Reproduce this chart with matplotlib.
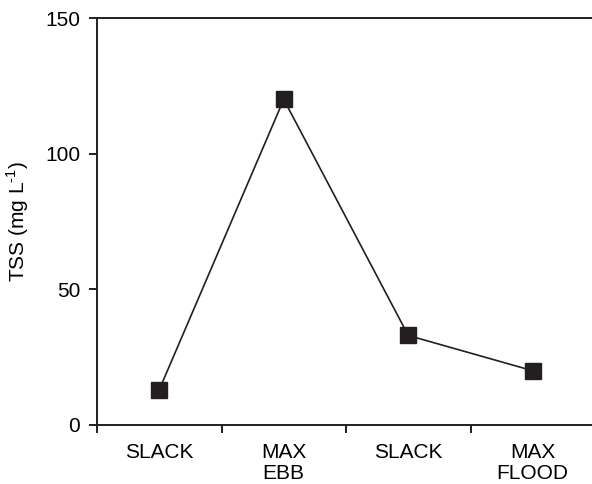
import numpy as np
import matplotlib.pyplot as plt

# tidal stages and TSS values
stages = ["SLACK", "MAX\nEBB", "SLACK", "MAX\nFLOOD"]
tss = [13, 120, 33, 20]

plt.rcParams['font.family'] = ['Liberation Sans', 'DejaVu Sans']
plt.rcParams['mathtext.fontset'] = 'custom'
plt.rcParams['mathtext.rm'] = 'Liberation Sans'
ink = "#231f20"

fig = plt.figure(figsize=(5.92, 4.84), dpi=100)
ax = fig.add_axes([97/592, 59/484, 498/592, 407/484])

x = np.arange(len(stages)) + 0.5
ax.plot(x, tss, color=ink, lw=1.2, marker="s", ms=11.5, mfc=ink, mec=ink)

ax.set_xlim(0, len(stages))
ax.set_ylim(0, 150)
ax.set_yticks([0, 50, 100, 150])
ax.set_xticks(np.arange(len(stages) + 1))
ax.set_xticklabels([])
ax.set_xticks(x, minor=True)
ax.set_xticklabels(stages, minor=True, fontsize=15, linespacing=1.1)
ax.tick_params(axis="x", which="minor", length=0, pad=13)
ax.tick_params(axis="x", which="major", length=6, width=1.4, color=ink, direction="out")
ax.tick_params(axis="y", length=6, width=1.4, color=ink, labelsize=15, pad=6)

ax.set_ylabel(r"TSS (mg L$^{\text{-1}}$)", fontsize=15, labelpad=10)

for side in ["left", "bottom", "top"]:
    ax.spines[side].set_linewidth(1.4)
    ax.spines[side].set_color(ink)
ax.spines["right"].set_visible(False)

fig.savefig("out.png", dpi=100)
